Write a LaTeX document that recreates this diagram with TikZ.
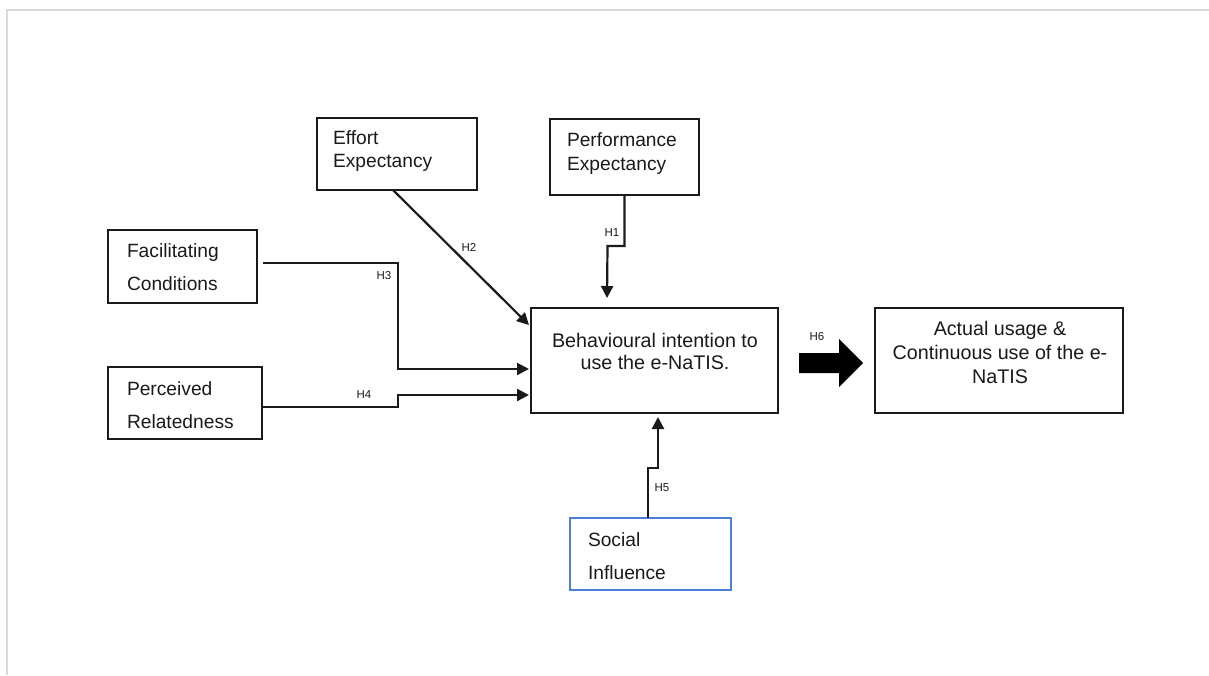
\documentclass[tikz,border=0pt]{standalone}
\usepackage{fontspec}
\setmainfont{Liberation Sans}
\usetikzlibrary{arrows.meta,calc}
\definecolor{linec}{HTML}{1A1A1A}
\definecolor{framec}{HTML}{DADADA}
\definecolor{bluec}{HTML}{4A7FD8}
\definecolor{txtc}{HTML}{1A1A1A}
\begin{document}
\begin{tikzpicture}[x=1pt,y=-1pt,
  box/.style={draw=linec, line width=2.2pt, inner sep=0pt, outer sep=0pt, fill=white},
  boxtxt/.style={inner sep=0pt, outer sep=0pt, text=txtc},
  hl/.style={inner sep=0pt, text=txtc, font=\fontsize{11.5}{13}\selectfont},
  conn/.style={draw=linec, line width=2.2pt, -{Triangle[length=12pt,width=12pt]}}
  ]
\useasboundingbox (0,0) rectangle (1209,675);
\fill[white] (0,0) rectangle (1209,675);
\draw[framec, line width=2pt] (7,675) -- (7,10) -- (1209,10);

% boxes
\node[box, minimum width=160pt, minimum height=72pt] (ee) at (397,154) {};
\node[box, minimum width=149pt, minimum height=76pt] (pe) at (624.5,157) {};
\node[box, minimum width=149pt, minimum height=73pt] (fc) at (182.5,266.5) {};
\node[box, minimum width=154pt, minimum height=72pt] (pr) at (185,403) {};
\node[box, minimum width=247pt, minimum height=105pt] (beh) at (654.5,360.5) {};
\node[box, minimum width=248pt, minimum height=105pt] (act) at (999,360.5) {};
\node[box, draw=bluec, minimum width=161pt, minimum height=72pt] (si) at (650.5,554) {};

% box texts (base anchor = baseline of the last line)
\node[boxtxt, anchor=base west, align=left, font=\fontsize{19.2}{23}\selectfont] (eet) at (333,167) {Effort\\Expectancy};
\node[boxtxt, anchor=base west, align=left, font=\fontsize{19.2}{24}\selectfont] (pet) at (567,170) {Performance\\Expectancy};
\node[boxtxt, anchor=base west, align=left, font=\fontsize{19.2}{33}\selectfont] (fct) at (127,290) {Facilitating\\Conditions};
\node[boxtxt, anchor=base west, align=left, font=\fontsize{19.2}{33}\selectfont] (prt) at (127,428) {Perceived\\Relatedness};
\node[boxtxt, anchor=base west, align=left, font=\fontsize{19.2}{33}\selectfont] (sit) at (588,579) {Social\\Influence};
\node[boxtxt, anchor=base, align=center, font=\fontsize{19.7}{22}\selectfont] (beht) at (655,369) {Behavioural intention to\\use the e-NaTIS.};
\node[boxtxt, anchor=base, align=center, font=\fontsize{19.7}{24}\selectfont] (actt) at (1000,383) {Actual usage \&\\Continuous use of the e-\\NaTIS};

% connectors
\draw[conn] (pe.south) |- ($(pe.south)+(-17,51)$) -- ($(beh.north)+(-47.5,-10)$);
\draw[conn] ($(ee.south)+(-4,0)$) -- ($(beh.west)+(-2,-35.5)$);
\draw[conn] ($(fc.east)+(6,-3.5)$) -| ($(beh.west)+(-133,8.5)$) -- ($(beh.west)+(-2,8.5)$);
\draw[conn] ($(pr.east)+(0,4)$) -| ($(beh.west)+(-133,34.5)$) -- ($(beh.west)+(-2,34.5)$);
\draw[conn] ($(si.north)+(-2.5,0)$) |- ($(beh.south)+(3.5,55)$) -- ($(beh.south)+(3.5,4)$);

% block arrow H6
\coordinate (h6s) at ($(beh.east)+(21,2.5)$);
\coordinate (h6e) at ($(act.west)+(-12,2.5)$);
\fill[black] ($(h6s)+(0,-10)$) -- ($(h6s)+(40,-10)$) -- ($(h6s)+(40,-24)$) -- (h6e)
  -- ($(h6s)+(40,24)$) -- ($(h6s)+(40,10)$) -- ($(h6s)+(0,10)$) -- cycle;

% hypothesis labels
\node[hl] (h1) at (612,233) {H1};
\node[hl] (h2) at (469,247) {H2};
\node[hl] (h3) at (384,276) {H3};
\node[hl] (h4) at (364,395) {H4};
\node[hl] (h5) at (662,488) {H5};
\node[hl] (h6) at (817,337) {H6};
\end{tikzpicture}
\end{document}
